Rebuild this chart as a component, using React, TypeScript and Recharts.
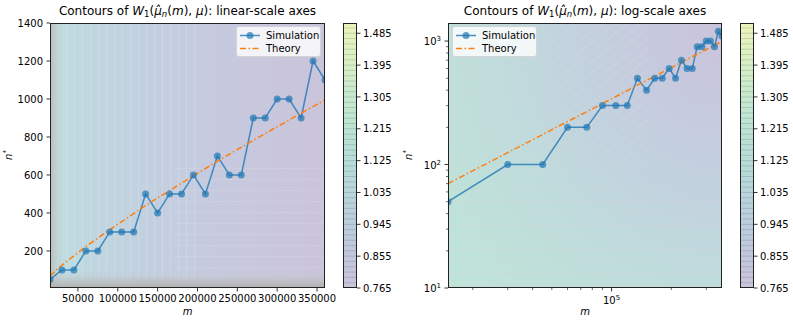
import React from 'react';
import { LineChart, Line, XAxis, YAxis, CartesianGrid, Legend } from 'recharts';

const FONT = '"DejaVu Sans", Verdana, sans-serif';

// sample sizes m and the n* found by simulation / predicted by theory
const mValues = [
  15000, 30000, 45000, 60000, 75000, 90000, 105000, 120000, 135000, 150000, 165000, 180000,
  195000, 210000, 225000, 240000, 255000, 270000, 285000, 300000, 315000, 330000, 345000, 360000,
];
const simulationN = [
  50, 100, 100, 200, 200, 300, 300, 300, 500, 400, 500, 500,
  600, 500, 700, 600, 600, 900, 900, 1000, 1000, 900, 1200, 1100,
];
const theoryN = [
  70, 125, 175, 223, 268, 312, 355, 397, 439, 479, 518, 557,
  596, 634, 672, 709, 746, 782, 818, 854, 890, 925, 960, 995,
];

const linearXTicks = [50000, 100000, 150000, 200000, 250000, 300000, 350000];
const linearYTicks = [200, 400, 600, 800, 1000, 1200, 1400];
const logXTicks = [20000, 30000, 40000, 50000, 60000, 70000, 80000, 90000, 100000, 200000, 300000];
const logYTicks = [10, 20, 30, 40, 50, 60, 70, 80, 90, 100, 200, 300, 400, 500, 600, 700, 800, 900, 1000];
const colorbarTicks = [0.765, 0.855, 0.945, 1.035, 1.125, 1.215, 1.305, 1.395, 1.485];
const colorbarDomain = [0.765, 1.514];

const rows = mValues.map((m, i) => ({ m, simulation: simulationN[i], theory: theoryN[i] }));
const cbRows = colorbarTicks.map((v) => ({ v }));
const contourLevels = Array.from({ length: 49 }, (_, i) => 0.78 + i * 0.015);

const BLUE = '#1f77b4';
const ORANGE = '#ff7f0e';

// ---- tick renderers (tickSize/tickMargin are 0 so x,y sit on the axis line) ----
const BottomTick = ({ x, y, payload }: any) => (
  <g>
    <line x1={x} x2={x} y1={y} y2={y + 3.5} stroke="#000" strokeWidth={0.8} />
    <text x={x} y={y + 14} textAnchor="middle" fontSize={10} fontFamily={FONT} fill="#000">
      {payload.value}
    </text>
  </g>
);

const LeftTick = ({ x, y, payload }: any) => (
  <g>
    <line x1={x - 3.5} x2={x} y1={y} y2={y} stroke="#000" strokeWidth={0.8} />
    <text x={x - 7} y={y + 3.6} textAnchor="end" fontSize={10} fontFamily={FONT} fill="#000">
      {payload.value}
    </text>
  </g>
);

const isMajor = (v: number) => [10, 100, 1000, 100000].includes(v);

const LogBottomTick = ({ x, y, payload }: any) => {
  const v = payload.value;
  if (!isMajor(v)) {
    return <line x1={x} x2={x} y1={y} y2={y + 2} stroke="#000" strokeWidth={0.6} />;
  }
  return (
    <g>
      <line x1={x} x2={x} y1={y} y2={y + 3.5} stroke="#000" strokeWidth={0.8} />
      <text x={x} y={y + 16} textAnchor="middle" fontSize={10} fontFamily={FONT} fill="#000">
        10<tspan dy={-4} fontSize={7}>{Math.round(Math.log10(v))}</tspan>
      </text>
    </g>
  );
};

const LogLeftTick = ({ x, y, payload }: any) => {
  const v = payload.value;
  if (!isMajor(v)) {
    return <line x1={x - 2} x2={x} y1={y} y2={y} stroke="#000" strokeWidth={0.6} />;
  }
  return (
    <g>
      <line x1={x - 3.5} x2={x} y1={y} y2={y} stroke="#000" strokeWidth={0.8} />
      <text x={x - 7} y={y + 4} textAnchor="end" fontSize={10} fontFamily={FONT} fill="#000">
        10<tspan dy={-4} fontSize={7}>{Math.round(Math.log10(v))}</tspan>
      </text>
    </g>
  );
};

const ColorbarTick = ({ x, y, payload }: any) => (
  <g>
    <line x1={x} x2={x + 3.5} y1={y} y2={y} stroke="#000" strokeWidth={0.8} />
    <text x={x + 6} y={y + 3.6} textAnchor="start" fontSize={10} fontFamily={FONT} fill="#000">
      {payload.value.toFixed(3)}
    </text>
  </g>
);

// ---- legend ----
const LegendBox = () => (
  <div
    style={{
      width: 85,
      height: 31,
      boxSizing: 'border-box',
      background: 'rgba(255,255,255,0.8)',
      border: '1px solid rgba(204,204,204,0.8)',
      borderRadius: 3,
      fontFamily: FONT,
      fontSize: 10,
      color: '#000',
      padding: '2px 0 0 3px',
      lineHeight: '13px',
    }}
  >
    <div style={{ display: 'flex', alignItems: 'center' }}>
      <svg width={20} height={13} style={{ marginRight: 6 }}>
        <line x1={0} x2={20} y1={6.5} y2={6.5} stroke={BLUE} strokeWidth={1.5} strokeOpacity={0.8} />
        <circle cx={10} cy={6.5} r={3.5} fill={BLUE} fillOpacity={0.7} />
      </svg>
      Simulation
    </div>
    <div style={{ display: 'flex', alignItems: 'center' }}>
      <svg width={20} height={13} style={{ marginRight: 6 }}>
        <line x1={0} x2={20} y1={6.5} y2={6.5} stroke={ORANGE} strokeWidth={1.5} strokeDasharray="6 2.5 1.5 2.5" />
      </svg>
      Theory
    </div>
  </div>
);

const Title = ({ left, width, kind }: { left: number; width: number; kind: string }) => (
  <div
    style={{
      position: 'absolute',
      left,
      width,
      top: 4,
      textAlign: 'center',
      fontFamily: FONT,
      fontSize: 12,
      lineHeight: '14px',
      whiteSpace: 'nowrap',
      color: '#000',
    }}
  >
    Contours of <i>W</i>
    <span style={{ fontSize: 8.5, verticalAlign: '-2px' }}>1</span>(<i>μ̂</i>
    <span style={{ fontSize: 8.5, verticalAlign: '-2px' }}>
      <i>n</i>
    </span>
    (<i>m</i>), <i>μ</i>): {kind}-scale axes
  </div>
);

const XLabel = ({ center }: { center: number }) => (
  <div
    style={{ position: 'absolute', left: center - 10, width: 20, top: 306, textAlign: 'center', fontFamily: FONT, fontSize: 10, fontStyle: 'italic' }}
  >
    m
  </div>
);

const YLabel = ({ left }: { left: number }) => (
  <div
    style={{
      position: 'absolute',
      left,
      top: 155,
      transform: 'translate(-50%, -50%) rotate(-90deg)',
      fontFamily: FONT,
      fontSize: 10,
      whiteSpace: 'nowrap',
    }}
  >
    <i>n</i>
    <span style={{ fontSize: 7, verticalAlign: '4px' }}>*</span>
  </div>
);

const frame = (left: number, top: number, width: number, height: number): React.CSSProperties => ({
  position: 'absolute',
  left,
  top,
  width,
  height,
  boxSizing: 'border-box',
  border: '1px solid #222',
  pointerEvents: 'none',
});

// contour-ish backgrounds behind the transparent chart svg
const linearBg: React.CSSProperties = {
  position: 'absolute',
  left: 50,
  top: 23,
  width: 275,
  height: 265,
  backgroundImage: [
    'linear-gradient(to top, rgba(175,175,175,0.95) 0px, rgba(185,185,185,0.7) 6px, rgba(195,198,205,0.3) 12px, rgba(200,205,215,0) 18px)',
    'linear-gradient(to right, rgba(188,188,188,0.95) 0px, rgba(195,200,200,0.6) 6px, rgba(195,215,215,0.2) 13px, rgba(0,0,0,0) 20px)',
    'repeating-linear-gradient(to right, rgba(232,232,232,0.3) 0px, rgba(232,232,232,0.3) 1px, transparent 1px, transparent 8px)',
    'repeating-linear-gradient(to bottom, transparent 0px, transparent 10px, rgba(225,225,225,0.25) 10px, rgba(225,225,225,0.25) 11px)',
    'linear-gradient(to right, #bddfe1 0%, #bfd7e0 15%, #c2d0e0 35%, #c6cadf 60%, #c9c6dc 85%, #cac4db 100%)',
  ].join(','),
  backgroundSize: '100% 100%, 100% 100%, 150px 100%, 150px 130px, 100% 100%',
  backgroundPosition: '0 0, 0 0, 0 0, 100% 100%, 0 0',
  backgroundRepeat: 'no-repeat',
};

const logBg: React.CSSProperties = {
  position: 'absolute',
  left: 448,
  top: 23,
  width: 274,
  height: 265,
  backgroundImage: [
    'repeating-linear-gradient(142deg, transparent 0px, transparent 7px, rgba(215,215,215,0.45) 7px, rgba(215,215,215,0.45) 8px)',
    'repeating-linear-gradient(to bottom, transparent 0px, transparent 11px, rgba(210,210,210,0.5) 11px, rgba(210,210,210,0.5) 12px)',
    'radial-gradient(ellipse 120% 140% at 100% 0%, #cbc4db 0%, #c7c9de 20%, #c2d2df 45%, #bfdcdc 70%, #bfe3d8 100%)',
  ].join(','),
  backgroundSize: '200px 150px, 100% 110px, 100% 100%',
  backgroundPosition: '0 0, 0 100%, 0 0',
  backgroundRepeat: 'no-repeat',
};

const colorbarBg = (left: number): React.CSSProperties => ({
  position: 'absolute',
  left,
  top: 23,
  width: 14,
  height: 265,
  background:
    'linear-gradient(to top, #cbc3da 0%, #c4c6dc 10%, #bccddc 25%, #b9d6da 38%, #b8ddd6 50%, #bde4d2 62%, #cbeacb 75%, #dcefc2 87%, #eef4b9 100%)',
});

const Colorbar = ({ left }: { left: number }) => (
  <>
    <div style={colorbarBg(left)} />
    <div style={{ position: 'absolute', left, top: 0 }}>
      <LineChart width={60} height={325} data={cbRows} margin={{ top: 23, right: 45, bottom: 37, left: 0 }}>
        <CartesianGrid vertical={false} horizontalValues={contourLevels} stroke="rgba(60,100,120,0.22)" />
        <XAxis hide />
        <YAxis
          orientation="right"
          type="number"
          domain={colorbarDomain}
          ticks={colorbarTicks}
          width={1}
          axisLine={false}
          tickLine={false}
          tickSize={0}
          tickMargin={0}
          interval={0}
          tick={<ColorbarTick />}
        />
        <Line dataKey="v" stroke="none" dot={false} isAnimationActive={false} />
      </LineChart>
    </div>
    <div style={frame(left, 23, 14, 265)} />
  </>
);

export default function App() {
  return (
    <div style={{ position: 'fixed', left: 0, top: 0, width: 793, height: 325, background: '#fff', overflow: 'hidden' }}>
      {/* linear-scale panel */}
      <div style={linearBg} />
      <div style={{ position: 'absolute', left: 0, top: 0 }}>
        <LineChart width={340} height={325} data={rows} margin={{ top: 23, right: 15, bottom: 36, left: 49 }}>
          <XAxis
            dataKey="m"
            type="number"
            domain={[15000, 360000]}
            ticks={linearXTicks}
            allowDataOverflow
            axisLine={false}
            tickLine={false}
            tickSize={0}
            tickMargin={0}
            height={1}
            interval={0}
            tick={<BottomTick />}
          />
          <YAxis
            type="number"
            domain={[5, 1400]}
            ticks={linearYTicks}
            allowDataOverflow
            axisLine={false}
            tickLine={false}
            tickSize={0}
            tickMargin={0}
            width={1}
            interval={0}
            tick={<LeftTick />}
          />
          <Line
            dataKey="simulation"
            type="linear"
            stroke={BLUE}
            strokeOpacity={0.8}
            strokeWidth={1.5}
            dot={{ r: 3.5, fill: BLUE, fillOpacity: 0.7, stroke: 'none' }}
            isAnimationActive={false}
          />
          <Line
            dataKey="theory"
            type="linear"
            stroke={ORANGE}
            strokeWidth={1.5}
            strokeDasharray="6 2.5 1.5 2.5"
            dot={false}
            isAnimationActive={false}
          />
          <Legend
            layout="vertical"
            align="center"
            verticalAlign="middle"
            content={<LegendBox />}
            wrapperStyle={{ left: 236, top: 26, width: 85 }}
          />
        </LineChart>
      </div>
      <div style={frame(50, 23, 275, 265)} />
      <Title left={50} width={275} kind="linear" />
      <XLabel center={187.5} />
      <YLabel left={8} />
      <Colorbar left={343} />

      {/* log-scale panel */}
      <div style={logBg} />
      <div style={{ position: 'absolute', left: 400, top: 0 }}>
        <LineChart width={340} height={325} data={rows} margin={{ top: 23, right: 18, bottom: 36, left: 47 }}>
          <XAxis
            dataKey="m"
            type="number"
            scale="log"
            domain={[15000, 360000]}
            ticks={logXTicks}
            allowDataOverflow
            axisLine={false}
            tickLine={false}
            tickSize={0}
            tickMargin={0}
            height={1}
            interval={0}
            tick={<LogBottomTick />}
          />
          <YAxis
            type="number"
            scale="log"
            domain={[10, 1400]}
            ticks={logYTicks}
            allowDataOverflow
            axisLine={false}
            tickLine={false}
            tickSize={0}
            tickMargin={0}
            width={1}
            interval={0}
            tick={<LogLeftTick />}
          />
          <Line
            dataKey="simulation"
            type="linear"
            stroke={BLUE}
            strokeOpacity={0.8}
            strokeWidth={1.5}
            dot={{ r: 3.5, fill: BLUE, fillOpacity: 0.7, stroke: 'none' }}
            isAnimationActive={false}
          />
          <Line
            dataKey="theory"
            type="linear"
            stroke={ORANGE}
            strokeWidth={1.5}
            strokeDasharray="6 2.5 1.5 2.5"
            dot={false}
            isAnimationActive={false}
          />
          <Legend
            layout="vertical"
            align="center"
            verticalAlign="middle"
            content={<LegendBox />}
            wrapperStyle={{ left: 52, top: 26, width: 85 }}
          />
        </LineChart>
      </div>
      <div style={frame(448, 23, 274, 265)} />
      <Title left={448} width={274} kind="log" />
      <XLabel center={585} />
      <YLabel left={408} />
      <Colorbar left={740} />
    </div>
  );
}
